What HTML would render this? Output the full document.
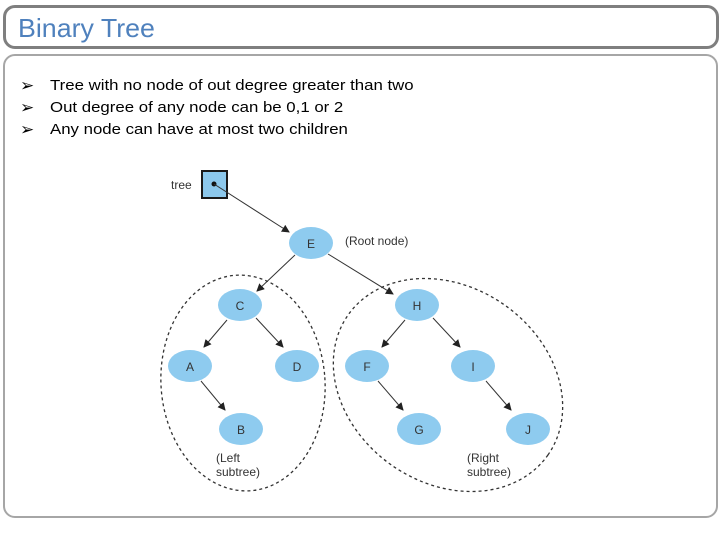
<!DOCTYPE html>
<html><head><style>
body{margin:0;width:720px;height:540px;background:#fff;position:relative;overflow:hidden;font-family:"Liberation Sans",sans-serif}
.t{position:absolute;left:3px;top:5px;width:710px;height:38px;border:3px solid #7f7f7f;border-radius:12px}
.c{position:absolute;left:3px;top:54px;width:711px;height:460px;border:2px solid #a6a6a6;border-radius:12px}
.tt{position:absolute;left:18px;top:13px;font-size:26px;color:#4f81bd;transform:scaleX(1.03);transform-origin:left}
.b{position:absolute;left:20px;font-size:17px;color:#000}
.b span{position:absolute;left:30px;top:1px;font-size:15px;white-space:nowrap;transform:scaleX(1.12);transform-origin:left}
</style></head><body>
<div class="t"></div><div class="c"></div>
<div class="tt">Binary Tree</div>
<div class="b" style="top:76px">➢<span>Tree with no node of out degree greater than two</span></div>
<div class="b" style="top:98px">➢<span>Out degree of any node can be 0,1 or 2</span></div>
<div class="b" style="top:120px">➢<span>Any node can have at most two children</span></div>
<svg width="720" height="540" style="position:absolute;left:0;top:0" font-family="Liberation Sans, sans-serif">
<defs><marker id="a" markerWidth="8" markerHeight="8" refX="7" refY="4" orient="auto" markerUnits="userSpaceOnUse"><path d="M0,0L8,4L0,8z" fill="#222"/></marker></defs>
<g fill="none" stroke="#333" stroke-width="1.3" stroke-dasharray="3,3">
<ellipse cx="243" cy="383" rx="82" ry="108" transform="rotate(-4 243 383)"/>
<ellipse cx="448" cy="385" rx="122" ry="98" transform="rotate(35 448 385)"/>
</g>
<rect x="202" y="171" width="25" height="27" fill="#8cc8ec" stroke="#1a1a1a" stroke-width="2"/>
<circle cx="214" cy="184" r="2.5" fill="#111"/>
<text x="171" y="189" font-size="12" fill="#333">tree</text>
<g stroke="#333" stroke-width="1" marker-end="url(#a)">
<line x1="214" y1="184" x2="289" y2="232"/>
<line x1="295" y1="255" x2="257" y2="291"/>
<line x1="328" y1="254" x2="393" y2="294"/>
<line x1="227" y1="320" x2="204" y2="347"/>
<line x1="256" y1="318" x2="283" y2="347"/>
<line x1="405" y1="320" x2="382" y2="347"/>
<line x1="433" y1="318" x2="460" y2="347"/>
<line x1="201" y1="381" x2="225" y2="410"/>
<line x1="378" y1="381" x2="403" y2="410"/>
<line x1="486" y1="381" x2="511" y2="410"/>
</g>
<g fill="#8ecbef">
<ellipse cx="311" cy="243" rx="22" ry="16"/><ellipse cx="240" cy="305" rx="22" ry="16"/>
<ellipse cx="417" cy="305" rx="22" ry="16"/><ellipse cx="190" cy="366" rx="22" ry="16"/>
<ellipse cx="297" cy="366" rx="22" ry="16"/><ellipse cx="367" cy="366" rx="22" ry="16"/>
<ellipse cx="473" cy="366" rx="22" ry="16"/><ellipse cx="241" cy="429" rx="22" ry="16"/>
<ellipse cx="419" cy="429" rx="22" ry="16"/><ellipse cx="528" cy="429" rx="22" ry="16"/>
</g>
<g font-size="12" fill="#333" text-anchor="middle">
<text x="311" y="248">E</text><text x="240" y="310">C</text><text x="417" y="310">H</text>
<text x="190" y="371">A</text><text x="297" y="371">D</text><text x="367" y="371">F</text>
<text x="473" y="371">I</text><text x="241" y="434">B</text><text x="419" y="434">G</text><text x="528" y="434">J</text>
</g>
<g font-size="12" fill="#333">
<text x="345" y="245">(Root node)</text>
<text x="216" y="462">(Left</text><text x="216" y="476">subtree)</text>
<text x="467" y="462">(Right</text><text x="467" y="476">subtree)</text>
</g>
</svg>
</body></html>
